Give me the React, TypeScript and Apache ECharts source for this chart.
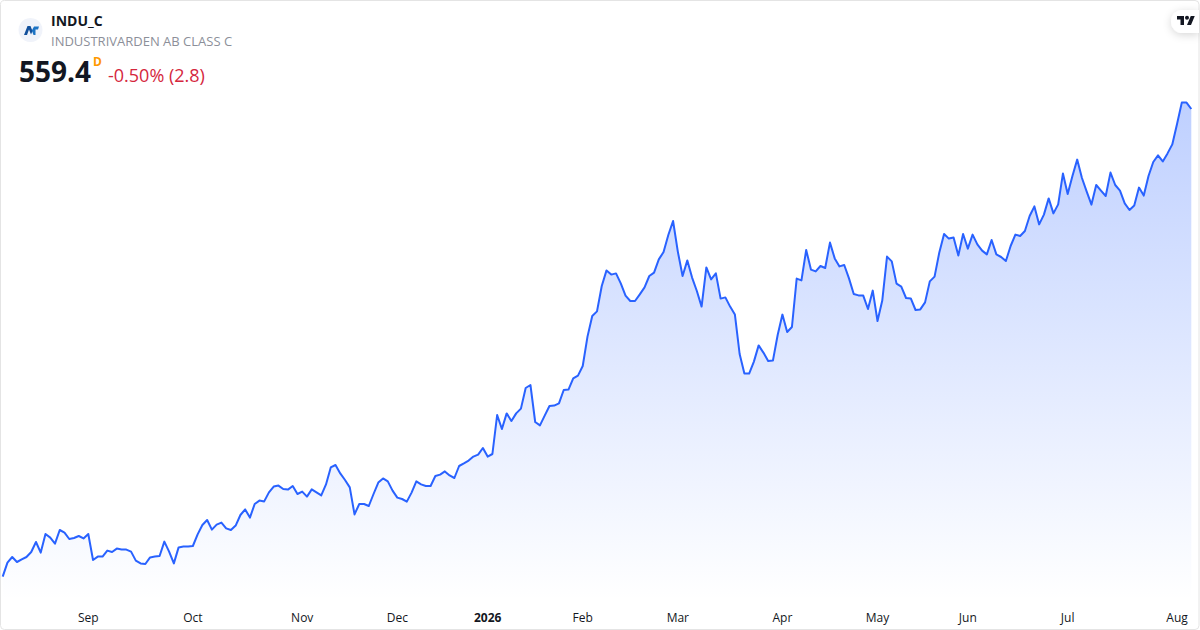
import React, { useEffect, useRef } from "react";
import * as echarts from "echarts";

const FONT = '"Open Sans", "Noto Sans", sans-serif';

const pricesAugNov = [325.6,332.6,335.4,332.9,334.2,335.4,337.9,342.9,337.6,346.9,345.1,342.1,348.9,347.6,344.4,344.9,345.9,344.7,346.9,333.9,335.6,335.6,338.6,337.9,339.6,339.2,339.1,338.1,333.6,332.2,331.9,335.2,335.6,335.9,343.1,338.1,332.2,340.2,340.6,340.7,340.9,346.7,351.4,353.9,349.1,351.6,352.6,349.7,348.9,351.1,356.4,359.2,355.1,361.9,363.6,363.2,367.7,370.6,371.1,369.4,369.1,370.9,366.9];
const pricesNovJan = [368.1,365.6,369.2,367.7,366.2,371.7,380.2,381.4,377.2,373.9,370.2,356.7,361.9,361.9,360.9,366.9,372.6,374.7,373.2,368.6,365.1,364.4,363.1,367.6,373.2,371.7,370.9,370.9,375.9,376.6,378.2,376.2,374.9,380.9,382.2,383.6,385.6,386.6,389.9,385.6,386.9,406.4,399.4,407.2,403.4,407.2,409.6,419.9,421.4,402.9,401.2,406.1,410.9,411.1,412.2];
const pricesFebApr = [418.9,419.1,424.7,426.1,430.9,445.6,455.9,458.2,470.9,478.7,476.6,477.2,472.2,466.1,463.4,463.4,466.7,470.2,475.9,477.6,484.2,487.9,496.4,503.4,488.1,475.9,483.7,475.1,468.4,460.6,480.2,474.2,477.2,464.6,465.2,460.6,456.7,436.9,427.1,427.1,433.1,441.2,437.6,433.4,433.6,446.4,456.6,447.9,450.4,474.6,473.7,488.9,479.1,478.2,480.9,479.9,492.6,484.7,480.7,481.4];
const pricesAprAug = [474.7,466.9,466.2,466.1,459.4,468.6,453.4,463.6,485.6,483.2,472.1,470.6,464.9,464.7,458.9,459.2,462.7,473.2,475.6,487.7,496.9,494.6,495.1,486.1,496.9,489.6,496.6,491.7,488.6,486.7,493.9,486.7,485.4,483.4,490.9,496.6,495.9,498.4,505.9,510.7,501.7,506.6,514.7,507.2,511.7,527.1,516.9,525.9,534.1,524.9,518.1,511.6,521.4,518.6,515.9,527.6,521.4,518.6,512.2,508.9,511.1,520.1,516.1,525.9,532.9,536.2,533.2,537.2,541.7,551.9,562.6,562.6,559.4];
const prices = [...pricesAugNov, ...pricesNovJan, ...pricesFebApr, ...pricesAprAug];

const tickLabels = ["Sep", "Oct", "Nov", "Dec", "2026", "Feb", "Mar", "Apr", "May", "Jun", "Jul", "Aug"];
const tickIndices = [18, 40, 63, 83, 102, 122, 142, 164, 184, 203, 224, 247];
const categories = prices.map((_, i) => {
  const k = tickIndices.indexOf(i);
  return k >= 0 ? tickLabels[k] : "";
});

const TV_PATH = "M14 22H7V11H0V4h14v18zM28 22h-8l7.5-18h8L28 22zM16 7.5a4 4 0 1 0 8 0a4 4 0 1 0 -8 0z";
const N_PATH_A = "M24 35L27.5 26H30.5L32.5 31L31 34.5L29 29.5L27 35Z";
const N_PATH_B = "M33.5 35L31.8 30.5L34 26.5H39L38 29.5H35.5L35.5 35Z";

export default function App() {
  const ref = useRef<HTMLDivElement>(null);
  useEffect(() => {
    echarts.graphic.registerShape("tvLogo", echarts.graphic.extendPath(TV_PATH, {}) as any);
    echarts.graphic.registerShape("nA", echarts.graphic.extendPath(N_PATH_A, {}) as any);
    echarts.graphic.registerShape("nB", echarts.graphic.extendPath(N_PATH_B, {}) as any);
    const chart = echarts.init(ref.current!, undefined, { renderer: "svg" });
    chart.setOption({
      animation: false,
      backgroundColor: "#ffffff",
      grid: { left: 2.7, right: 8.7, top: 0, bottom: 30, containLabel: false },
      xAxis: {
        type: "category",
        data: categories,
        boundaryGap: false,
        axisLine: { show: false },
        axisTick: { show: false },
        splitLine: { show: false },
        axisLabel: {
          interval: (i: number) => categories[i] !== "",
          margin: 11,
          fontFamily: FONT,
          fontSize: 12,
          color: "#131722",
          hideOverlap: false,
          formatter: (v: string) => (v === "2026" ? `{b|${v}}` : v),
          rich: { b: { fontFamily: FONT, fontSize: 12, fontWeight: "bold", color: "#131722" } },
        },
      },
      yAxis: { type: "value", min: 313.9, max: 613.9, show: false },
      series: [
        {
          type: "line",
          data: prices,
          showSymbol: false,
          smooth: false,
          lineStyle: { color: "#2962ff", width: 2, join: "round" },
          areaStyle: {
            origin: "start",
            opacity: 1,
            color: new echarts.graphic.LinearGradient(0, 0, 0, 1, [
              { offset: 0, color: "rgba(41,98,255,0.3)" },
              { offset: 1, color: "rgba(41,98,255,0)" },
            ]),
          },
        },
      ],
      graphic: [
        { type: "rect", shape: { x: 0.5, y: 0.5, width: 1198.5, height: 629, r: 4 }, style: { fill: "none", stroke: "#e4e4e4", lineWidth: 1 }, silent: true },
        { type: "circle", shape: { cx: 30.5, cy: 30, r: 12 }, style: { fill: "#f0f3fa" } },
        { type: "nA", style: { fill: "#12509c" } },
        { type: "nB", style: { fill: "#1d74c4" } },
        { type: "text", x: 51, y: 20.5, style: { text: "INDU_C", font: `bold 14px ${FONT}`, fill: "#131722", textVerticalAlign: "middle" } },
        { type: "text", x: 51, y: 40.5, style: { text: "INDUSTRIVARDEN AB CLASS C", font: `13px ${FONT}`, fill: "#8c8f99", textVerticalAlign: "middle" } },
        { type: "text", x: 19, y: 70.5, style: { text: "559.4", font: `bold 28px ${FONT}`, fill: "#131722", textVerticalAlign: "middle" } },
        { type: "text", x: 93, y: 61, style: { text: "D", font: `bold 12px ${FONT}`, fill: "#ff9800", textVerticalAlign: "middle" } },
        { type: "text", x: 108, y: 74.5, style: { text: "-0.50% (2.8)", font: `18px ${FONT}`, fill: "#d5273d", textVerticalAlign: "middle" } },
        { type: "rect", shape: { x: 1171, y: 10, width: 28, height: 23, r: [11.5, 0, 0, 11.5] }, style: { fill: "#ffffff", shadowBlur: 9, shadowColor: "rgba(0,0,0,0.16)", shadowOffsetY: 2 } },
        { type: "tvLogo", x: 1177, y: 14, scaleX: 0.5, scaleY: 0.5, style: { fill: "#131722" } },
      ],
    });
    return () => chart.dispose();
  }, []);
  return <div ref={ref} style={{ position: "fixed", left: 0, top: 0, width: 1200, height: 630 }} />;
}
